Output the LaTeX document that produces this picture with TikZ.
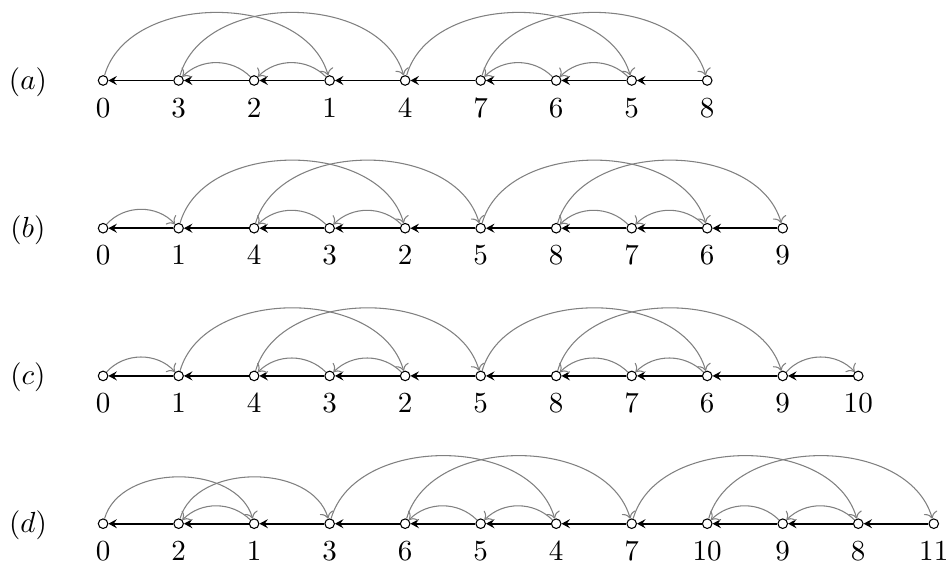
\documentclass[tikz,border=0pt,11pt]{standalone}
\usetikzlibrary{arrows.meta}
\begin{document}
\begin{tikzpicture}[vtx/.style={circle,draw,fill=white,inner sep=0pt,minimum size=3.6pt},
  num/.style={inner sep=0.5pt,label distance=4pt},
  nxt/.style={semithick,-{Stealth[length=3.2pt,width=3.4pt,inset=1.2pt]}},
  succ/.style={gray,->},
  hop/.style={succ,bend left=48},
  hopback/.style={succ,bend right=45},
  jump/.style={succ,bend left=74}]
\useasboundingbox (0,0) rectangle (12.58,-7.455);
\node (ra) at (0.37,-1.09) {$(a)$};
\foreach \v [count=\p from 0, remember=\v as \w] in {0,3,2,1,4,7,6,5,8} {
  \node[vtx,label={[num]below:$\v$}] (a\v) at (1.365+\p,-1.066) {};
  \ifnum\p>0 \draw[nxt] (a\v) -- (a\w); \fi
}
\foreach \s/\t/\k in {0/1/jump,1/2/hopback,2/3/hopback,3/4/jump,4/5/jump,5/6/hopback,6/7/hopback,7/8/jump}
  \draw[\k] (a\s) to (a\t);
\node (rb) at (0.37,-3.046) {$(b)$};
\foreach \v [count=\p from 0, remember=\v as \w] in {0,1,4,3,2,5,8,7,6,9} {
  \node[vtx,label={[num]below:$\v$}] (b\v) at (1.365+\p,-3.022) {};
  \ifnum\p>0 \draw[nxt] (b\v) -- (b\w); \fi
}
\foreach \s/\t/\k in {0/1/hop,1/2/jump,2/3/hopback,3/4/hopback,4/5/jump,5/6/jump,6/7/hopback,7/8/hopback,8/9/jump}
  \draw[\k] (b\s) to (b\t);
\node (rc) at (0.37,-5.002) {$(c)$};
\foreach \v [count=\p from 0, remember=\v as \w] in {0,1,4,3,2,5,8,7,6,9,10} {
  \node[vtx,label={[num]below:$\v$}] (c\v) at (1.365+\p,-4.978) {};
  \ifnum\p>0 \draw[nxt] (c\v) -- (c\w); \fi
}
\foreach \s/\t/\k in {0/1/hop,1/2/jump,2/3/hopback,3/4/hopback,4/5/jump,5/6/jump,6/7/hopback,7/8/hopback,8/9/jump,9/10/hop}
  \draw[\k] (c\s) to (c\t);
\node (rd) at (0.37,-6.959) {$(d)$};
\foreach \v [count=\p from 0, remember=\v as \w] in {0,2,1,3,6,5,4,7,10,9,8,11} {
  \node[vtx,label={[num]below:$\v$}] (d\v) at (1.365+\p,-6.935) {};
  \ifnum\p>0 \draw[nxt] (d\v) -- (d\w); \fi
}
\foreach \s/\t/\k in {0/1/jump,1/2/hopback,2/3/jump,3/4/jump,4/5/hopback,5/6/hopback,6/7/jump,7/8/jump,8/9/hopback,9/10/hopback,10/11/jump}
  \draw[\k] (d\s) to (d\t);
\end{tikzpicture}
\end{document}
